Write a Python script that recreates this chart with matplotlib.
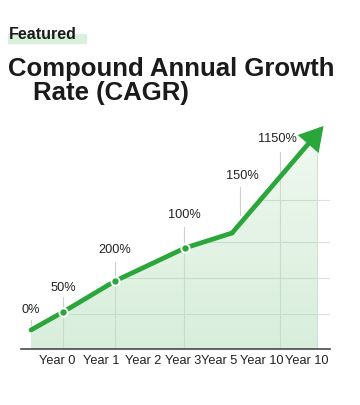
import numpy as np
import matplotlib
matplotlib.use('Agg')
import matplotlib.pyplot as plt
from matplotlib.patches import Rectangle

# Data: positions along the (unscaled) time axis and line heights
x_pts = [0.0, 1.04, 2.73, 5.0, 6.53, 9.5]
y_pts = [19, 37, 68, 101, 116, 223]
marker_idx = [1, 2, 3]

tick_pos = [0.84, 2.27, 3.64, 4.93, 6.10, 7.50, 8.96]
tick_labels = ['Year 0', 'Year 1', 'Year 2', 'Year 3', 'Year 5', 'Year 10', 'Year 10']

growth_labels = ['0%', '50%', '200%', '100%', '150%', '1150%']
label_x = [0.0, 1.04, 2.73, 4.97, 6.85, 7.99]
label_y = [39, 61, 99, 134, 173, 210]
conn_x = [0.0, 1.04, 2.73, 4.97, 6.79, 8.08]
conn_top = [29, 52, 87, 122, 162, 197]
conn_bot = [24, 42, 68, 101, 134, 171]

hgrid = [35, 71, 107, 149]
vgrid = [1.04, 2.73, 4.97, 8.08]
fill_end = 9.29

GREEN = '#2ba63b'

fig = plt.figure(figsize=(3.6, 4.05), dpi=100, facecolor='white')
ax = fig.add_axes([21 / 360, 56 / 405, 309 / 360, 232 / 405])
ax.set_xlim(-0.325, 9.71)
ax.set_ylim(0, 232)

# Area under the line, with a soft vertical gradient
xf = np.concatenate([x_pts[:-1], [fill_end]])
yf = np.concatenate([y_pts[:-1], [np.interp(fill_end, x_pts, y_pts)]])
fill = ax.fill_between(xf, yf, 0, color='none', lw=0)
clip = fill.get_paths()[0]
grad = np.linspace(0, 1, 256).reshape(-1, 1)
cmap = matplotlib.colors.LinearSegmentedColormap.from_list('g', ['#d8eedb', '#f1f9f1'])
img = ax.imshow(grad, cmap=cmap, aspect='auto', origin='lower',
                extent=[0, fill_end, 0, 232], zorder=1)
img.set_clip_path(clip, transform=ax.transData)

# Grid lines only inside the shaded area
for y in hgrid:
    ln, = ax.plot([0, fill_end], [y, y], color='#c6dec8', lw=0.8, zorder=2)
    ln.set_clip_path(clip, transform=ax.transData)
    ax.plot([fill_end, 9.71], [y, y], color='#d6e6d7', lw=0.8, zorder=2)
for x in vgrid:
    ln, = ax.plot([x, x], [0, 232], color='#c6dec8', lw=0.8, zorder=2)
    ln.set_clip_path(clip, transform=ax.transData)
ax.plot([fill_end, fill_end], [0, yf[-1]], color='#cfe3d0', lw=0.8, zorder=2)

# Label connectors
for cx, ct, cb in zip(conn_x, conn_top, conn_bot):
    ax.plot([cx, cx], [cb, ct], color='#c9d3ca', lw=0.8, zorder=2)

# Growth line with arrow head
ax.plot(x_pts[:-1], y_pts[:-1], color=GREEN, lw=3.4, solid_capstyle='round',
        solid_joinstyle='round', zorder=4)
ax.annotate('', xy=(x_pts[-1], y_pts[-1]), xytext=(x_pts[-2], y_pts[-2]),
            arrowprops=dict(arrowstyle='-|>,head_length=1.2,head_width=0.7',
                            color=GREEN, lw=3.4, shrinkA=0, shrinkB=0,
                            joinstyle='miter'),
            zorder=4)
ax.plot([x_pts[i] for i in marker_idx], [y_pts[i] for i in marker_idx], 'o',
        color=GREEN, ms=6, mec='white', mew=1.4, zorder=5)

for t, lx, ly in zip(growth_labels, label_x, label_y):
    ax.text(lx, ly, t, ha='center', va='center', fontsize=9.2,
            family='Liberation Sans', color='#222222', zorder=6)

ax.set_xticks(tick_pos)
ax.set_xticklabels(tick_labels, fontsize=9.2, family='Liberation Sans', color='#222222')
ax.tick_params(axis='x', length=0, pad=4)
ax.set_yticks([])
for s in ['top', 'right', 'left']:
    ax.spines[s].set_visible(False)
ax.spines['bottom'].set_color('#4a4a4a')
ax.spines['bottom'].set_linewidth(1.2)

# Header
fig.patches.append(Rectangle((8 / 360, 362 / 405), 78 / 360, 9 / 405,
                             transform=fig.transFigure, color='#d9f0da', zorder=0))
fig.text(9 / 360, (405 - 39) / 405, 'Featured', fontsize=11.5, weight='bold',
         family='Liberation Sans', color='#1a1a1a', va='baseline')
fig.text(8 / 360, (405 - 76) / 405, 'Compound Annual Growth', fontsize=18.5,
         weight='bold', family='Liberation Sans', color='#1a1a1a', va='baseline')
fig.text(33 / 360, (405 - 100) / 405, 'Rate (CAGR)', fontsize=18.5,
         weight='bold', family='Liberation Sans', color='#1a1a1a', va='baseline')

fig.savefig('out.png', dpi=100, facecolor='white')
